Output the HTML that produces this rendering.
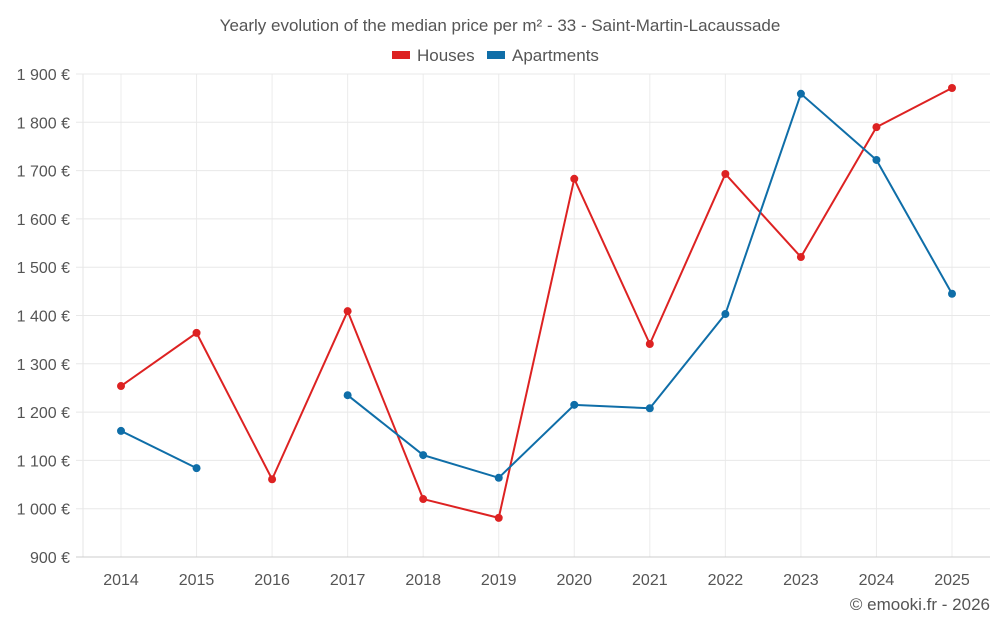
<!DOCTYPE html>
<html><head><meta charset="utf-8">
<style>
body{margin:0;background:#fff;font-family:"Liberation Sans",sans-serif;}
svg text{font-family:"Liberation Sans",sans-serif;}
</style></head>
<body>
<svg id="chart" width="1000" height="625" xmlns="http://www.w3.org/2000/svg">
<text x="500" y="31" text-anchor="middle" font-size="17" fill="#555">Yearly evolution of the median price per m² - 33 - Saint-Martin-Lacaussade</text>
<g>
<g><rect x="392" y="51" width="18" height="8" fill="#dd2222"/><text x="417" y="61" font-size="17" fill="#555">Houses</text></g>
<g><rect x="487" y="51" width="18" height="8" fill="#0f6ea8"/><text x="512" y="61" font-size="17" fill="#555">Apartments</text></g>
</g>
<g id="grid"></g><g id="axes"></g><g id="series"></g>
<text x="990" y="610" text-anchor="end" font-size="17" fill="#555">© emooki.fr - 2026</text>
</svg>
<script>
const years=[2014,2015,2016,2017,2018,2019,2020,2021,2022,2023,2024,2025];
const houses=[1254,1364,1061,1409,1020,981,1683,1341,1693,1521,1790,1871];
const apartments=[1161,1084,null,1235,1111,1064,1215,1208,1403,1859,1722,1445];
const yTicks=[900,1000,1100,1200,1300,1400,1500,1600,1700,1800,1900];
const NS="http://www.w3.org/2000/svg";
const L=83,R=990,T=74,B=557;
const x=i=>121+i*(952-121)/(years.length-1);
const y=v=>B-(v-900)/(1900-900)*(B-T);
function mk(tag,attrs,parent){const e=document.createElementNS(NS,tag);for(const k in attrs)e.setAttribute(k,attrs[k]);parent.appendChild(e);return e;}
const grid=document.getElementById('grid'),axes=document.getElementById('axes'),ser=document.getElementById('series');
const ax=mk('line',{x1:L,x2:L,y1:T,y2:B,stroke:'#e6e6e6'},grid);


years.forEach((yr,i)=>{
 const l=mk('line',{x1:x(i),x2:x(i),y1:T,y2:B,stroke:'#ececec'},grid);
 
 
 const tx=mk('text',{x:x(i),y:585,'text-anchor':'middle','font-size':16,fill:'#555'},axes);
 tx.textContent=yr;
 
 
});
yTicks.forEach(t=>{
 const l=mk('line',{x1:76,x2:R,y1:y(t),y2:y(t),stroke:t===900?'#ccc':'#e8e8e8','stroke-width':1},grid);
 
 
 const s=String(t).replace(/(\d)(\d{3})$/,'$1 $2')+' €';
 const tx=mk('text',{x:70,y:y(t)+6,'text-anchor':'end','font-size':16,fill:'#555'},axes);
 tx.textContent=s;
 
 
});
function draw(vals,color,name){
 let d='',pen=false;
 vals.forEach((v,i)=>{if(v==null){pen=false;return;}d+=(pen?'L':'M')+x(i)+' '+y(v)+' ';pen=true;});
 const p=mk('path',{d:d,fill:'none',stroke:color,'stroke-width':2},ser);
 
 
 vals.forEach((v,i)=>{if(v==null)return;
  const c=mk('circle',{cx:x(i),cy:y(v),r:4,fill:color},ser);
  
  
 });
}
draw(houses,'#dd2222','houses');
draw(apartments,'#0f6ea8','apartments');
</script>
</body></html>
